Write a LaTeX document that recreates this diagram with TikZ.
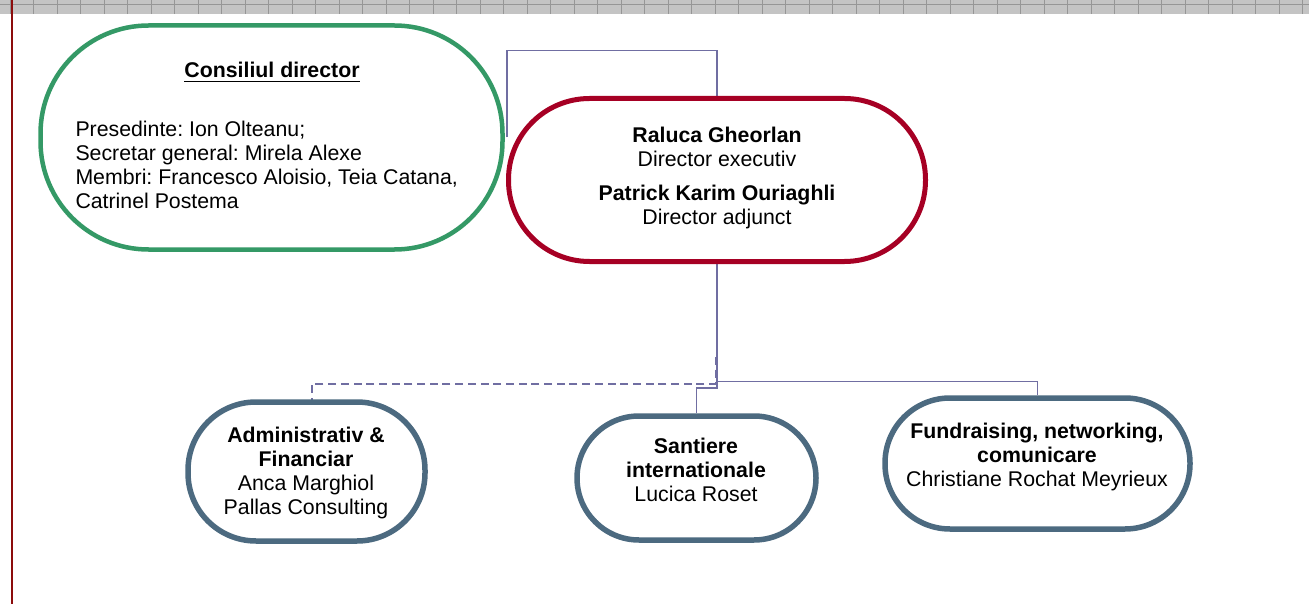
\documentclass[tikz,border=0pt]{standalone}
\usepackage{fontspec}
\setmainfont{Liberation Sans}
\usetikzlibrary{backgrounds}
\definecolor{boardgreen}{RGB}{52,153,102}
\definecolor{execred}{RGB}{166,0,36}
\definecolor{deptsteel}{RGB}{76,106,128}
\definecolor{linkcol}{RGB}{112,110,162}
\definecolor{marginred}{RGB}{140,12,12}
\definecolor{bandgray}{RGB}{196,196,196}
\definecolor{banddark}{RGB}{150,150,150}
\begin{document}
\frenchspacing
\begin{tikzpicture}[x=1pt,y=-1pt,
  box/.style={draw,rectangle,inner sep=0pt,fill=white},
  txt/.style={inner sep=0pt,outer sep=0pt,align=center,font=\fontsize{21.3}{24}\selectfont},
  conn/.style={draw=linkcol,line width=1.5pt},
  dashconn/.style={draw=linkcol,line width=1.8pt,dash pattern=on 8pt off 4.7pt},
]
\useasboundingbox (0,0) rectangle (1309,604);
% top band
\fill[bandgray] (0,0) rectangle (1309,14.5);
\foreach \i in {0,...,55} {\draw[banddark,line width=0.8pt] (\i*23.5+10,0) -- (\i*23.5+10,14.5);}
\draw[banddark,line width=0.8pt] (0,4.5) -- (1309,4.5);
% margin line
\draw[marginred,line width=1.8pt] (12,0) -- (12,604);

% boxes
\node[box,draw=boardgreen,line width=4.5pt,minimum width=462pt,minimum height=224pt,rounded corners=108pt] (board) at (271.5,137.5) {};
\node[box,draw=execred,line width=5pt,minimum width=417pt,minimum height=163pt,rounded corners=81pt] (exec) at (717,180) {};
\node[box,draw=deptsteel,line width=5.5pt,minimum width=237pt,minimum height=139pt,rounded corners=68pt] (admin) at (306.5,471.5) {};
\node[box,draw=deptsteel,line width=5.5pt,minimum width=239pt,minimum height=124pt,rounded corners=62pt] (mid) at (696.5,478) {};
\node[box,draw=deptsteel,line width=5.5pt,minimum width=305pt,minimum height=131pt,rounded corners=65pt] (fund) at (1037.5,463.5) {};

% texts
\node[txt,anchor=base] (boardhead) at (272,78) {\textbf{Consiliul director}};
\draw[line width=1.6pt] ([yshift=-3.6pt]boardhead.base west) -- ([yshift=-3.6pt]boardhead.base east);
\node[txt,anchor=west,align=left] (boardbody) at (75.5,164.7) {Presedinte: Ion Olteanu;\\Secretar general: Mirela Alexe\\Membri: Francesco Aloisio, Teia Catana,\\Catrinel Postema};
\node[txt] (exectext) at (717,178.3) {\textbf{Raluca Gheorlan}\\Director executiv\\[10pt]\textbf{Patrick Karim Ouriaghli}\\Director adjunct};
\node[txt] (admintext) at (306,472.5) {\textbf{Administrativ \&}\\\textbf{Financiar}\\Anca Marghiol\\Pallas Consulting};
\node[txt] (midtext) at (696,470) {\textbf{Santiere}\\\textbf{internationale}\\Lucica Roset};
\node[txt] (fundtext) at (1037,456.8) {\textbf{Fundraising, networking,}\\\textbf{comunicare}\\Christiane Rochat Meyrieux};

% connectors
\coordinate (topbend) at (600,50.7);
\coordinate (bus) at (717,381.7);
\coordinate (stepc) at (717,388);
\coordinate (dstart) at (715.5,357);
\coordinate (dcorner) at (715.5,384);
\begin{scope}[on background layer]
\draw[conn] ([xshift=2.2pt]board.east) |- (topbend) -| (exec.north);
\draw[conn] (exec.south) -- (bus) -| (fund.north);
\draw[conn] (bus) -- (stepc) -| (mid.north);
\draw[dashconn] (dstart) -- (dcorner) -| ([xshift=5.5pt,yshift=-6pt]admin.north);
\end{scope}
\end{tikzpicture}
\end{document}
